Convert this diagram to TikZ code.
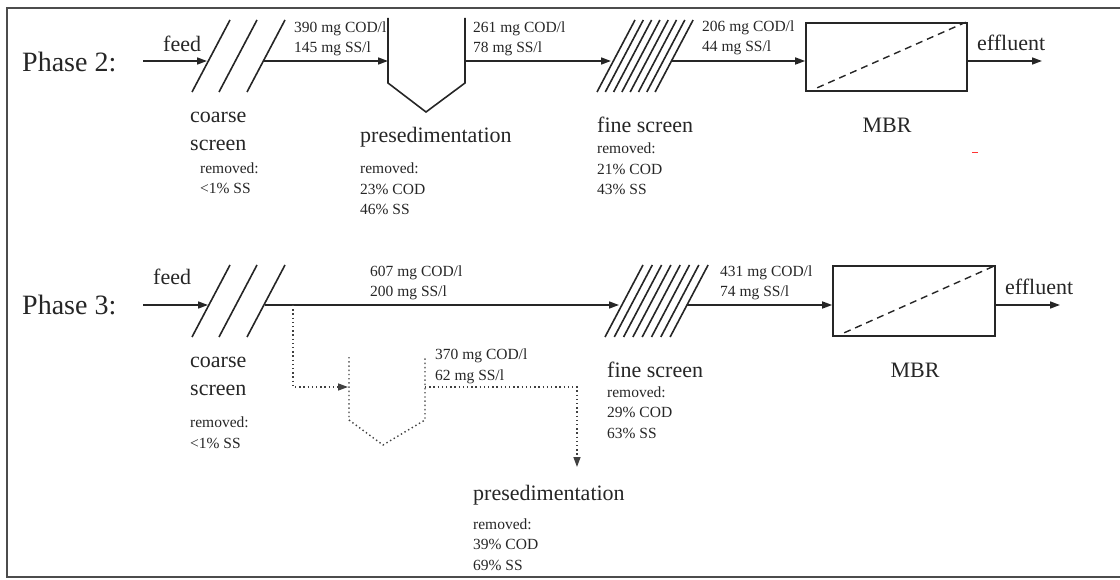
\documentclass[tikz,border=0pt]{standalone}
\usepackage{fontspec}
\setmainfont{Liberation Serif}
\usetikzlibrary{arrows.meta}

\tikzset{
  flow/.style={draw=black!85, line width=1.6pt},
  dots/.style={draw=black!75, line width=1.4pt, dash pattern=on 1.4pt off 2.8pt},
  frame/.style={draw=black!70, line width=1.6pt},
  mbr/.style={draw=black!85, line width=1.6pt, minimum width=161pt, minimum height=68pt, inner sep=0},
  membrane/.style={draw=black!85, line width=1.4pt, dash pattern=on 7pt off 5pt},
  phase/.style={anchor=base west, inner sep=0, text=black!85, font=\fontsize{28}{30}\selectfont},
  unit/.style={anchor=base west, inner sep=0, text=black!85, align=left, font=\fontsize{22}{28}\selectfont},
  data/.style={anchor=base west, inner sep=0, text=black!85, align=left, font=\fontsize{15.5}{20.5}\selectfont},
}

\begin{document}
\begin{tikzpicture}[x=1pt, y=-1pt, >={Triangle[length=10pt,width=7pt]}]
\useasboundingbox (0,0) rectangle (1120,580);
\draw[frame] (1120,8) -- (7,8) -- (7,577) -- (1120,577);

% phase 2
\node[phase] (ph2) at (22,72) {Phase 2:};
\node[unit] (feed2) at (163,52) {feed};
\coordinate (in2) at (143,61);
\coordinate (cs2in) at (207,61);
\coordinate (cs2out) at (264,61);
\coordinate (ps2in) at (388,61);
\coordinate (ps2out) at (465,61);
\coordinate (fs2in) at (611,61);
\coordinate (fs2out) at (671,61);
\coordinate (eff2end) at (1042,61);
\foreach \x in {192,219,247}
  \draw[flow] (\x,92) -- ++(38,-72);
\draw[flow] (388,18) -- (388,83) -- (426,112) -- (465,83) -- (465,18);
\foreach \i in {0,...,7}
  \draw[flow] ({597+8.3*\i},92) -- ++(38,-72);
\node[mbr] (mbr2) at (886.5,57) {};
\draw[membrane] ([shift={(12,-4)}]mbr2.south west) -- ([shift={(-2,0)}]mbr2.north east);
\draw[flow,->] (in2) -- (cs2in);
\draw[flow,->] (cs2out) -- (ps2in);
\draw[flow,->] (ps2out) -- (fs2in);
\draw[flow,->] (fs2out) -- (mbr2.west |- fs2out);
\draw[flow,->] (mbr2.east |- fs2out) -- (eff2end);
\node[unit] (eff2) at (977,51) {effluent};
% base anchor sits on the last line
\node[data] (load390) at (294,53) {390 mg COD/l\\145 mg SS/l};
\node[data] (load261) at (473,53) {261 mg COD/l\\78 mg SS/l};
\node[data] (load206) at (702,52) {206 mg COD/l\\44 mg SS/l};
\node[unit] (coarse2) at (190,151) {coarse\\screen};
\node[data] (coarserem2) at (200,194) {removed:\\<1\% SS};
\node[unit] (presed2) at (360,143) {presedimentation};
\node[data] (presedrem2) at (360,215) {removed:\\23\% COD\\46\% SS};
\node[unit] (fine2) at (597,133) {fine screen};
\node[data] (finerem2) at (597,195) {removed:\\21\% COD\\43\% SS};
\node[unit, anchor=base] (mbrlab2) at (887,133) {MBR};
\draw[red!80, line width=0.8pt] (972,152) -- (978,152);

% phase 3
\node[phase] (ph3) at (22,315) {Phase 3:};
\node[unit] (feed3) at (153,285) {feed};
\coordinate (in3) at (143,305);
\coordinate (cs3in) at (208,305);
\coordinate (cs3out) at (265,305);
\coordinate (fs3in) at (619,305);
\coordinate (fs3out) at (687,305);
\coordinate (eff3end) at (1060,305);
\coordinate (by3) at (293,305);
\coordinate (by3turn) at (293,387);
\coordinate (ps3in) at (348,387);
\coordinate (ps3out) at (425,387);
\coordinate (ps3turn) at (577,387);
\coordinate (ps3end) at (577,467);
\foreach \x in {192,219,247}
  \draw[flow] (\x,337) -- ++(38,-72);
\foreach \i in {0,...,7}
  \draw[flow] ({605+9.3*\i},337) -- ++(38,-72);
\node[mbr, minimum width=162pt, minimum height=70pt] (mbr3) at (914,301) {};
\draw[membrane] ([shift={(12,-4)}]mbr3.south west) -- ([shift={(-2,1)}]mbr3.north east);
\draw[dots] (349,357) -- (349,420) -- (383,445) -- (425,420) -- (425,357);
\draw[flow,->] (in3) -- (cs3in);
\draw[flow,->] (cs3out) -- (fs3in);
\draw[flow,->] (fs3out) -- (mbr3.west |- fs3out);
\draw[flow,->] (mbr3.east |- fs3out) -- (eff3end);
\draw[dots,->] (by3) -- (by3turn) -- (ps3in);
\draw[dots,->] (ps3out) -- (ps3turn) -- (ps3end);
\node[unit] (eff3) at (1005,295) {effluent};
\node[data] (load607) at (370,297) {607 mg COD/l\\200 mg SS/l};
\node[data] (load431) at (720,297) {431 mg COD/l\\74 mg SS/l};
\node[data] (load370) at (435,380) {370 mg COD/l\\62 mg SS/l};
\node[unit] (coarse3) at (190,395) {coarse\\screen};
\node[data] (coarserem3) at (190,448) {removed:\\<1\% SS};
\node[unit] (presed3) at (473,500) {presedimentation};
\node[data] (presedrem3) at (473,570) {removed:\\39\% COD\\69\% SS};
\node[unit] (fine3) at (607,377) {fine screen};
\node[data] (finerem3) at (607,438) {removed:\\29\% COD\\63\% SS};
\node[unit, anchor=base] (mbrlab3) at (915,377) {MBR};
\end{tikzpicture}
\end{document}
